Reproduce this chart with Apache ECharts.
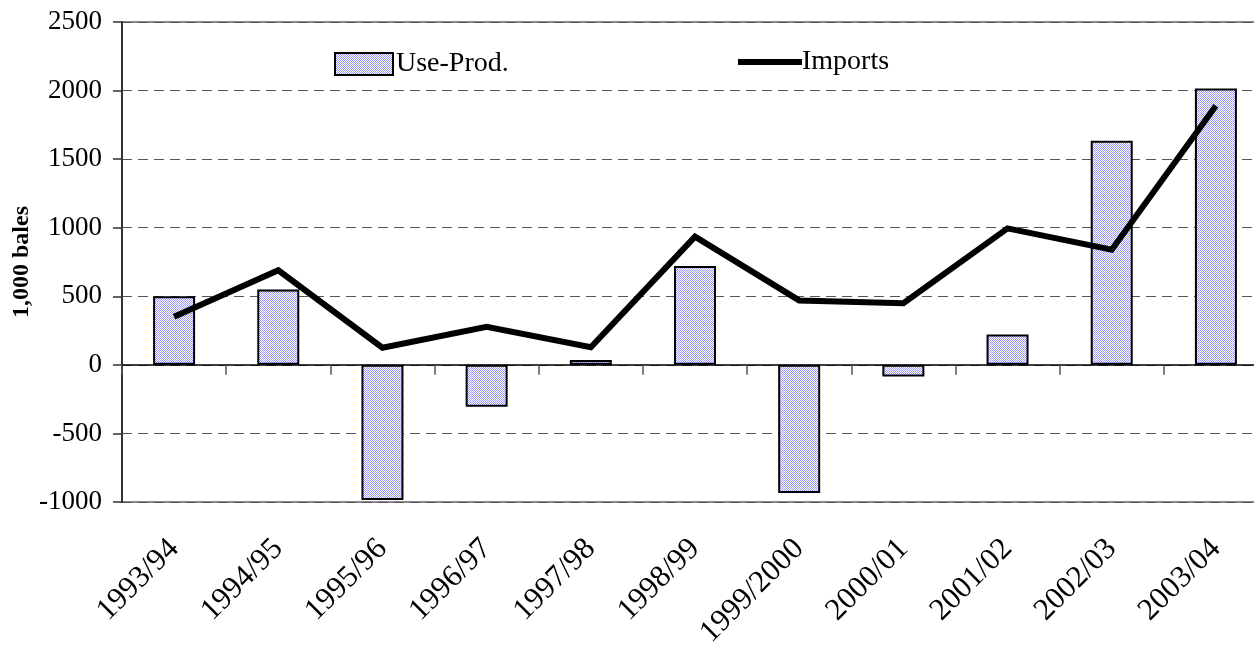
<!DOCTYPE html>
<html>
<head>
<meta charset="utf-8">
<script src="https://cdn.jsdelivr.net/npm/echarts@6/dist/echarts.min.js"></script>
<style>
  html, body { margin: 0; padding: 0; background: #fff; }
  #chart { width: 1254px; height: 650px; }
</style>
</head>
<body>
<div id="chart"></div>
<script>
const categories = ['1993/94','1994/95','1995/96','1996/97','1997/98','1998/99','1999/2000','2000/01','2001/02','2002/03','2003/04'];
const useProd = [500, 550, -985, -305, 35, 720, -935, -85, 222, 1635, 2015];
const imports = [350, 690, 125, 277, 128, 935, 470, 450, 995, 840, 1890];
const yTicks = { min: -1000, max: 2500, interval: 500 };

// dotted fill pattern
const pat = document.createElement('canvas');
pat.width = 2; pat.height = 2;
const pc = pat.getContext('2d');
pc.fillStyle = '#ffffff'; pc.fillRect(0, 0, 2, 2);
pc.fillStyle = '#9a9aff'; pc.fillRect(0, 0, 1, 1); pc.fillRect(1, 1, 1, 1);

const FONT = '"Liberation Serif", "Times New Roman", serif';
const chart = echarts.init(document.getElementById('chart'), null, { renderer: 'canvas' });

chart.setOption({
  animation: false,
  backgroundColor: '#ffffff',
  grid: {
    left: 122, top: 22, bottom: 148, right: -14,
    containLabel: false, outerBoundsMode: 'none',
    show: true, borderColor: '#8a8a8a', borderWidth: 2, backgroundColor: 'transparent'
  },
  legend: [
    {
      data: [{ name: 'Use-Prod.', icon: 'rect' }], left: 329, top: 45,
      itemWidth: 58, itemHeight: 22, itemGap: 0,
      textStyle: { fontFamily: FONT, fontSize: 28, color: '#000', padding: [0, 0, 0, -2] }
    },
    {
      data: [{ name: 'Imports', icon: 'rect' }], left: 733, top: 43,
      itemWidth: 64, itemHeight: 6, itemGap: 0,
      textStyle: { fontFamily: FONT, fontSize: 28, color: '#000', padding: [0, 0, 0, -5] }
    }
  ],
  xAxis: [
    {
      type: 'category', data: categories, position: 'bottom',
      axisLine: { show: false, onZero: false },
      axisTick: { show: false },
      splitLine: { show: false },
      axisLabel: {
        rotate: 45, margin: 42, interval: 0,
        fontFamily: FONT, fontSize: 31, color: '#000'
      }
    },
    {
      type: 'category', data: categories, position: 'top',
      axisLine: { show: true, onZero: true, lineStyle: { color: '#000', width: 1.5 } },
      axisTick: { show: true, inside: true, length: 10, lineStyle: { color: '#555', width: 1.5 } },
      axisLabel: { show: false },
      splitLine: { show: false }
    }
  ],
  yAxis: {
    type: 'value', min: yTicks.min, max: yTicks.max, interval: yTicks.interval,
    name: '1,000 bales', nameLocation: 'middle', nameGap: 88, nameRotate: 90,
    nameMoveOverlap: false,
    nameTextStyle: { fontFamily: FONT, fontSize: 24, fontWeight: 'bold', color: '#000' },
    axisLine: { show: true, lineStyle: { color: '#333', width: 2 } },
    axisTick: { show: true, length: 9, lineStyle: { color: '#333', width: 1.5 } },
    axisLabel: { margin: 20, fontFamily: FONT, fontSize: 27, color: '#000', formatter: v => String(v) },
    splitLine: { show: true, lineStyle: { color: '#555', width: 1.2, type: [10, 6] } }
  },
  series: [
    {
      name: 'Use-Prod.', type: 'bar', data: useProd, barWidth: 42, xAxisIndex: 0,
      itemStyle: { color: { image: pat, repeat: 'repeat' }, borderColor: '#000', borderWidth: 2 },
      z: 2
    },
    {
      name: 'Imports', type: 'line', data: imports, xAxisIndex: 0,
      symbol: 'none', showSymbol: false,
      lineStyle: { color: '#000', width: 6, join: 'miter' },
      itemStyle: { color: '#000' },
      z: 3
    }
  ]
});
</script>
</body>
</html>
